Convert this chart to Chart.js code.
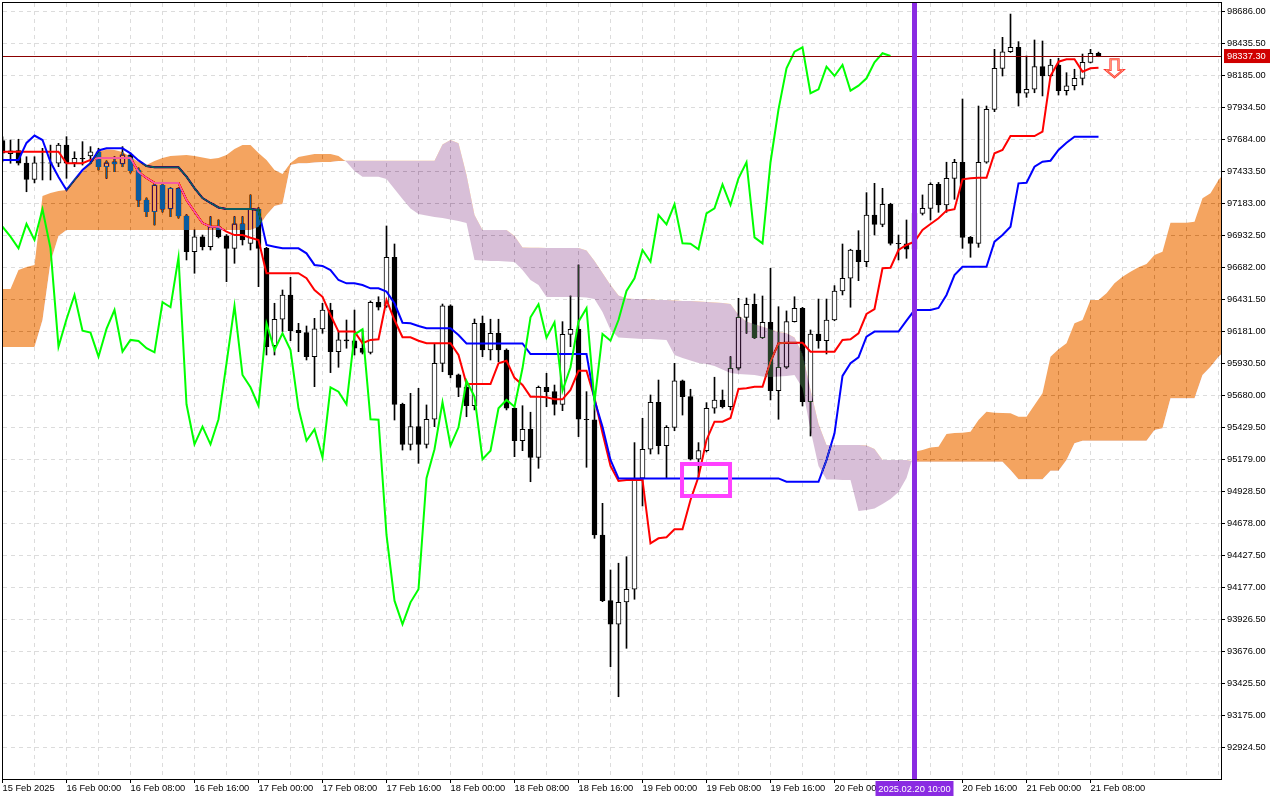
<!DOCTYPE html>
<html><head><meta charset="utf-8">
<script src="https://cdn.jsdelivr.net/npm/chart.js@4.4.1/dist/chart.umd.min.js"></script>
<style>html,body{margin:0;padding:0;background:#fff;overflow:hidden}canvas{display:block}</style>
</head><body>
<canvas id="c" width="1280" height="800" style="width:1280px;height:800px"></canvas>
<script>
// ===== DATA (BTC H1, 15 Feb 16:00 .. 21 Feb 09:00) =====
const opens = [
97675,97574,97598,97500,97372,97502,97502,97498,97641,97500,
97537,97555,97588,97471,97510,97492,97563,97445,97210,97119,
97325,97140,97300,97085,96806,96923,96845,97001,96930,96832,
97023,96870,97138,96832,96070,96277,96467,96190,96172,95984,
96201,96349,96023,96115,96107,96050,96018,96410,96380,96762,
95611,95298,95436,95298,95494,95932,96381,95841,95744,95600,
96245,96036,96167,96036,95580,95326,95415,95196,95744,95710,
95611,96159,96198,95494,95490,94588,94074,93889,94065,94163,
95032,95259,95627,95287,95431,95794,95671,95181,95248,95580,
95645,95592,95893,96292,96394,96133,96253,95718,95901,96258,
96363,95632,96161,96109,96271,96498,96598,96819,96727,97093,
97020,97177,96871,96868,96825,97106,97145,97333,97171,97380,
97506,96918,96871,97506,97920,98241,98371,98406,98046,98077,
98254,98181,98267,98066,98105,98163,98288,98359];
const highs = [
97704,97680,97686,97549,97549,97615,97640,97654,97706,97588,
97667,97628,97615,97516,97549,97628,97578,97461,97226,97335,
97335,97306,97305,97095,96976,96936,97080,97054,96940,97080,
97080,97250,97150,96840,96402,96506,96605,96245,96224,96284,
96402,96402,96180,96271,96349,96193,96420,96453,97007,96866,
95620,95697,95736,95606,96083,96396,96390,95848,95762,96279,
96302,96277,96277,96045,95585,95600,95549,95754,95854,95762,
96258,96459,96702,95710,95606,94836,94314,94367,94418,95311,
95502,95684,95801,95444,95932,95801,95729,95311,95624,95823,
95723,95984,96441,96443,96475,96459,96676,96375,96342,96453,
96370,96193,96435,96435,96540,96866,96825,96970,97268,97341,
97302,97185,96936,97054,97132,97250,97345,97348,97506,97529,
98001,96925,97946,97946,98390,98484,98666,98450,98338,98463,
98455,98312,98320,98207,98234,98353,98390,98368];
const lows = [
97508,97498,97484,97275,97344,97367,97367,97471,97380,97471,
97484,97498,97445,97380,97432,97471,97422,97158,97080,97015,
97116,97080,97069,96741,96637,96819,96819,96913,96571,96715,
96858,96819,96532,95997,95997,96180,96109,96023,95958,95749,
96167,95859,95901,96050,95997,96005,96005,96349,96370,95488,
95253,95253,95149,95269,95436,95866,95818,95671,95514,95567,
95984,95958,95945,95567,95201,95248,95005,95110,95592,95527,
95561,96062,95358,95118,94562,94066,93557,93322,93701,94085,
94815,95222,95222,95032,95404,95527,95175,95044,95238,95541,
95582,95567,95880,96167,96125,96128,95645,95494,95893,96255,
95598,95363,96050,96005,96265,96467,96371,96579,96688,96936,
97001,96858,96741,96754,96803,97093,97054,97114,97114,97216,
96832,96762,96840,97498,97902,98181,98365,97946,98014,98050,
98025,98175,98032,98032,98072,98111,98283,98332];
const closes = [
97576,97596,97498,97372,97502,97500,97498,97641,97498,97537,
97531,97588,97471,97502,97492,97563,97440,97210,97119,97328,
97138,97302,97085,96806,96923,96845,97001,96923,96832,97023,
96897,97138,96832,96062,96277,96467,96187,96172,95984,96201,
96349,96023,96115,96107,96050,96018,96410,96371,96762,95611,
95298,95436,95298,95494,95932,96381,95841,95744,95600,96245,
96036,96167,96036,95580,95326,95415,95196,95744,95710,95611,
96159,96198,95494,95490,94588,94074,93889,94061,94163,95032,
95259,95627,95287,95431,95794,95671,95181,95248,95580,95645,
95592,95893,96292,96394,96133,96253,95718,95901,96258,96363,
95632,96161,96109,96271,96498,96598,96819,96727,97093,97020,
97177,96871,96868,96825,97106,97145,97333,97171,97380,97506,
96918,96871,97506,97920,98241,98371,98406,98046,98077,98254,
98181,98267,98066,98105,98163,98288,98359,98337.3];

// Tenkan-sen (red)
const tenkan = [
97589,97589,97589,97589,97589,97589,97589,97589,97498,97498,
97498,97524,97539,97539,97539,97539,97539,97430,97383,97344,
97344,97344,97344,97210,97119,97030,97001,97001,96962,96936,
96936,96915,96897,96637,96637,96637,96637,96637,96598,96506,
96453,96310,96180,96180,96180,96089,96115,96120,96428,96271,
96136,96136,96109,96089,96089,96089,96089,95997,95770,95770,
95770,95770,95932,95952,95818,95762,95671,95671,95666,95650,
95650,95723,95874,95874,95661,95387,95128,95011,95019,95019,
95019,94523,94562,94570,94633,94633,94862,95044,95332,95475,
95475,95504,95731,95736,95749,95749,95945,96089,96093,96093,
96093,96023,96023,96023,96023,96115,96120,96167,96318,96357,
96676,96680,96819,96858,96884,96976,97023,97067,97127,97138,
97372,97380,97385,97385,97576,97602,97711,97711,97711,97711,
97745,98181,98293,98312,98312,98215,98241,98246];
// Kijun-sen (blue)
const kijun = [
97524,97524,97524,97657,97715,97680,97508,97390,97289,97367,
97445,97500,97598,97615,97615,97615,97576,97520,97477,97466,
97466,97466,97466,97393,97304,97226,97187,97152,97140,97140,
97140,97140,97132,96858,96845,96832,96832,96832,96793,96702,
96694,96662,96584,96558,96558,96545,96519,96519,96493,96402,
96250,96245,96224,96206,96206,96206,96206,96154,96088,96088,
96088,96088,96088,96088,96088,96088,96005,96005,96005,96005,
96005,96005,96005,96005,95645,95436,95175,95031,95031,95031,
95031,95031,95031,95031,95031,95031,95031,95031,95031,95031,
95031,95031,95031,95031,95031,95031,95031,95031,95005,95005,
95005,95005,95005,95175,95384,95833,95932,95979,96140,96180,
96180,96180,96180,96266,96349,96349,96349,96365,96467,96623,
96688,96688,96688,96688,96884,96936,97001,97341,97346,97471,
97510,97518,97602,97659,97706,97706,97706,97706];
// Senkou Span A (already shifted 26 bars forward), bars 0..153
const spanA = [
96514,96514,96662,96686,96702,97242,97265,97281,97289,97375,
97430,97500,97586,97606,97602,97586,97549,97508,97484,97516,
97539,97555,97559,97563,97555,97543,97531,97539,97563,97610,
97641,97641,97578,97524,97445,97414,97500,97547,97559,97571,
97571,97571,97555,97508,97437,97393,97393,97393,97375,97297,
97218,97144,97101,97089,97077,97070,97058,97046,97030,96741,
96737,96733,96733,96729,96725,96662,96584,96545,96451,96451,
96451,96451,96451,96447,96435,96334,96193,96134,96130,96126,
96122,96122,96118,96115,95997,95974,95954,95934,95927,95911,
95884,95856,95848,95844,95841,95829,95825,95829,95833,95841,
95739,95410,95128,95023,95023,95019,95019,94776,94784,94796,
94831,94870,94925,95034,95240,95253,95273,95279,95379,95387,
95389,95397,95488,95553,95545,95543,95541,95514,95514,95606,
95697,95984,96042,96089,96245,96271,96428,96428,96480,96558,
96610,96649,96684,96709,96780,96806,97033,97033,97033,97041,
97224,97263,97367,97445];
// Senkou Span B (already shifted 26 bars forward), bars 0..153
const spanB = [
96060,96060,96060,96060,96060,96271,96725,96929,96976,96976,
96976,96976,96976,96976,96976,96976,96976,96976,96976,96976,
96976,96976,96976,96976,96976,96976,96976,96976,96976,96976,
96976,96976,96999,97093,97163,97179,97484,97498,97498,97504,
97508,97508,97516,97518,97518,97518,97518,97518,97518,97518,
97518,97518,97518,97518,97518,97645,97680,97654,97406,97093,
96976,96976,96976,96976,96929,96839,96837,96836,96835,96835,
96835,96835,96835,96815,96733,96639,96545,96463,96439,96435,
96435,96432,96428,96428,96424,96420,96420,96416,96412,96408,
96404,96396,96310,96258,96237,96219,96198,96177,96167,96134,
96005,95723,95457,95293,95293,95293,95293,95293,95289,95261,
95175,95175,95175,95175,95162,95162,95162,95162,95162,95162,
95162,95162,95162,95162,95162,95162,95097,95024,95024,95024,
95024,95091,95091,95175,95306,95326,95326,95326,95326,95326,
95326,95326,95326,95326,95410,95423,95658,95658,95658,95658,
95841,95906,95984,96036];
// Chikou span (close plotted 26 bars back), bars 0..111
const chikou = [
97001,96923,96832,97023,96897,97138,96832,96062,96277,96467,
96187,96172,95984,96201,96349,96023,96115,96107,96050,96018,
96410,96371,96762,95611,95298,95436,95298,95494,95932,96381,
95841,95744,95600,96245,96036,96167,96036,95580,95326,95415,
95196,95744,95710,95611,96159,96198,95494,95490,94588,94074,
93889,94061,94163,95032,95259,95627,95287,95431,95794,95671,
95181,95248,95580,95645,95592,95893,96292,96394,96133,96253,
95718,95901,96258,96363,95632,96161,96109,96271,96498,96598,
96819,96727,97093,97020,97177,96871,96868,96825,97106,97145,
97333,97171,97380,97506,96918,96871,97506,97920,98241,98371,
98406,98046,98077,98254,98181,98267,98066,98105,98163,98288,
98359,98337.3];

// Axis tick values / labels
const yTickValues = [92924.5,93175,93425.5,93676,93926.5,94177,94427.5,94678,94928.5,95179,
  95429.5,95680,95930.5,96181,96431.5,96682,96932.5,97183,97433.5,97684,97934.5,98185,98435.5,98686];
const xTickBars = [0,8,16,24,32,40,48,56,64,72,80,88,96,104,112,120,128,136];
const xTickLabels = ["15 Feb 2025","16 Feb 00:00","16 Feb 08:00","16 Feb 16:00","17 Feb 00:00","17 Feb 08:00",
  "17 Feb 16:00","18 Feb 00:00","18 Feb 08:00","18 Feb 16:00","19 Feb 00:00","19 Feb 08:00","19 Feb 16:00",
  "20 Feb 00:00","20 Feb 08:00","20 Feb 16:00","21 Feb 00:00","21 Feb 08:00"];

// Objects on chart
const currentPrice = 98337.30;
const markerBar = 114;
const markerLabel = "2025.02.20 10:00";
const boxBars = [84.69, 91.19];
const boxPrices = [95159.5, 94877.7];
const arrowBar = 139.0;
const arrowPrices = [98312, 98228, 98171];

// ===== CHART =====
const FONT = "'Liberation Sans', Arial, sans-serif";
const X_MIN = 0.0625, X_MAX = 152.3125;
const Y_MIN = 92677.9, Y_MAX = 98752.5;
const xy = arr => arr.map((v, i) => ({x: i, y: v}));
const bodies = opens.map((o, i) => ({x: i, y: [o, closes[i]]}));
const wicks = lows.map((l, i) => ({x: i, y: [l, highs[i]]}));
const bodyColors = opens.map((o, i) => closes[i] >= o ? '#ffffff' : '#000000');
const gridBars = [];
for (let b = 0; b <= 152; b += 4) gridBars.push(b);

const mtPlugin = {
  id: 'mtPlugin',
  beforeDraw(chart) {
    const c = chart.ctx; c.save(); c.fillStyle = '#ffffff'; c.fillRect(0, 0, chart.width, chart.height); c.restore();
  },
  afterDatasetDraw(chart, args) {
    if (args.index === 3) chart.ctx.globalCompositeOperation = 'difference';
    if (args.index === 5) chart.ctx.globalCompositeOperation = 'source-over';
  },
  afterDatasetsDraw(chart) {
    const c = chart.ctx, a = chart.chartArea, xs = chart.scales.x, ys = chart.scales.y;
    c.save();
    c.globalCompositeOperation = 'source-over';
    c.beginPath(); c.rect(a.left, a.top, a.right - a.left, a.bottom - a.top); c.clip();
    // current price line
    const py = Math.round(ys.getPixelForValue(currentPrice)) + 0.5;
    c.strokeStyle = '#8b0000'; c.lineWidth = 1;
    c.beginPath(); c.moveTo(a.left, py); c.lineTo(a.right, py); c.stroke();
    // vertical marker
    const mx = xs.getPixelForValue(markerBar);
    c.fillStyle = '#8a2be2'; c.fillRect(mx - 2.5, a.top, 5, a.bottom - a.top);
    // magenta box
    const bl = xs.getPixelForValue(boxBars[0]), br = xs.getPixelForValue(boxBars[1]);
    const bt = ys.getPixelForValue(boxPrices[0]), bb = ys.getPixelForValue(boxPrices[1]);
    c.strokeStyle = '#ff40ff'; c.lineWidth = 4;
    c.strokeRect(bl + 2, bt + 2, br - bl - 4, bb - bt - 4);
    // arrow
    const ax = xs.getPixelForValue(arrowBar);
    const y0 = ys.getPixelForValue(arrowPrices[0]), y1 = ys.getPixelForValue(arrowPrices[1]), y2 = ys.getPixelForValue(arrowPrices[2]);
    c.beginPath();
    c.moveTo(ax - 4, y0); c.lineTo(ax + 4, y0); c.lineTo(ax + 4, y1); c.lineTo(ax + 8.5, y1);
    c.lineTo(ax, y2); c.lineTo(ax - 8.5, y1); c.lineTo(ax - 4, y1); c.closePath();
    c.fillStyle = '#ffffff'; c.fill();
    c.strokeStyle = '#ff3030'; c.lineWidth = 2.2; c.stroke();
    c.strokeStyle = '#ffb080'; c.lineWidth = 0.8; c.stroke();
    c.restore();
    // frame
    c.save();
    c.strokeStyle = '#000'; c.lineWidth = 1;
    c.strokeRect(a.left - 0.5, a.top - 0.5, a.right - a.left + 1, a.bottom - a.top + 1);
    c.restore();
  },
  afterDraw(chart) {
    const c = chart.ctx, a = chart.chartArea, xs = chart.scales.x, ys = chart.scales.y;
    c.save();
    c.font = '9.3px ' + FONT; c.textBaseline = 'middle';
    // price label
    const py = ys.getPixelForValue(currentPrice);
    c.fillStyle = '#d00000'; c.fillRect(a.right + 3, py - 7, 46, 14);
    c.fillStyle = '#ffffff'; c.textAlign = 'left';
    c.fillText(currentPrice.toFixed(2), a.right + 6, py + 0.5);
    // marker time label
    const mx = xs.getPixelForValue(markerBar);
    c.fillStyle = '#8a2be2'; c.fillRect(mx - 39, a.bottom + 2, 78, 15);
    c.fillStyle = '#ffffff'; c.textAlign = 'center';
    c.fillText(markerLabel, mx, a.bottom + 10);
    c.restore();
  }
};

new Chart(document.getElementById('c'), {
  type: 'bar',
  data: {
    datasets: [
      {label: 'wick', type: 'bar', data: wicks, backgroundColor: '#000', borderWidth: 0, barThickness: 1, grouped: false, order: 10},
      {label: 'body', type: 'bar', data: bodies, backgroundColor: bodyColors, borderColor: '#000', borderWidth: 1, borderSkipped: false, barThickness: 5, grouped: false, order: 9},
      {label: 'Tenkan', type: 'line', data: xy(tenkan), borderColor: '#ff0000', borderWidth: 2, pointRadius: 0, fill: false, tension: 0, order: 8},
      {label: 'Kijun', type: 'line', data: xy(kijun), borderColor: '#0000ff', borderWidth: 2, pointRadius: 0, fill: false, tension: 0, order: 7},
      {label: 'SpanB', type: 'line', data: xy(spanB), borderColor: 'rgba(0,0,0,0)', borderWidth: 0, pointRadius: 0, fill: false, tension: 0, order: 6},
      {label: 'SpanA', type: 'line', data: xy(spanA), borderColor: 'rgba(0,0,0,0)', borderWidth: 0, pointRadius: 0, tension: 0, order: 5,
        fill: {target: 4, above: 'rgb(11,91,159)', below: 'rgb(39,64,39)'}},
      {label: 'Chikou', type: 'line', data: xy(chikou), borderColor: '#00ff00', borderWidth: 2, pointRadius: 0, fill: false, tension: 0, order: 4}
    ]
  },
  options: {
    responsive: false, animation: false, devicePixelRatio: 1,
    layout: {padding: {left: 3, top: 3, right: 0, bottom: 0}, autoPadding: false},
    plugins: {legend: {display: false}, tooltip: {enabled: false}, filler: {drawTime: 'beforeDatasetDraw'}},
    scales: {
      x: {
        type: 'linear', min: X_MIN, max: X_MAX, offset: false,
        grid: {offset: false, color: '#dcdcdc', lineWidth: 1, drawTicks: true, tickLength: 4, tickWidth: 1,
          tickColor: (ctx) => (ctx.tick && xTickBars.indexOf(ctx.tick.value) >= 0) ? '#000000' : 'rgba(0,0,0,0)'},
        border: {display: false, dash: [4, 4]},
        ticks: {autoSkip: false, maxRotation: 0, minRotation: 0, align: 'start', padding: 0, color: '#000',
          font: {family: FONT, size: 9.3},
          callback: (v) => { const k = xTickBars.indexOf(v); return k >= 0 ? xTickLabels[k] : ''; }},
        afterBuildTicks: (s) => { s.ticks = gridBars.map(v => ({value: v})); },
        afterFit: (s) => { s.height = 21; s.paddingLeft = 0; s.paddingRight = 0; }
      },
      y: {
        type: 'linear', position: 'right', min: Y_MIN, max: Y_MAX,
        grid: {color: '#dcdcdc', lineWidth: 1, drawTicks: true, tickLength: 4, tickColor: '#000', tickWidth: 1},
        border: {display: false, dash: [4, 4]},
        ticks: {autoSkip: false, padding: 2, color: '#000', font: {family: FONT, size: 9.3},
          callback: (v) => Number(v).toFixed(2)},
        afterBuildTicks: (s) => { s.ticks = yTickValues.map(v => ({value: v})); },
        afterFit: (s) => { s.width = 59; s.paddingTop = 0; s.paddingBottom = 0; }
      }
    }
  },
  plugins: [mtPlugin]
});
</script>
</body></html>
